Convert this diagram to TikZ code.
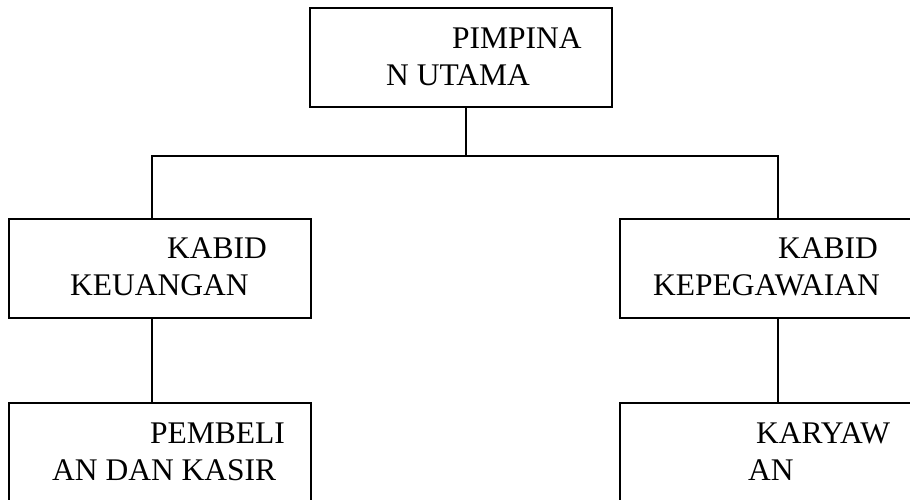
\documentclass[tikz,border=0pt]{standalone}
\usepackage{fontspec}
\setmainfont{Liberation Serif}
\tikzset{
  box/.style={draw, line width=1.4pt, rectangle, minimum width=302pt, minimum height=99pt, inner sep=0pt},
  lbl/.style={anchor=base west, inner sep=0pt, font=\fontsize{31.5}{37}\selectfont},
  link/.style={line width=1.3pt}
}
\begin{document}
\begin{tikzpicture}[x=1pt, y=-1pt]
    \useasboundingbox (0,0) rectangle (910,499);

    \coordinate (j0) at (466,156);
    \coordinate (jl) at (152,156);
    \coordinate (jr) at (778,156);

    \node[box] (utama) at (461,57.5) {};
    \node[box] (keu) at (160,268.5) {};
    \node[box] (peg) at (771,268.5) {};
    \node[box] (beli) at (160,452.5) {};
    \node[box] (kary) at (771,452.5) {};

    \node[lbl] (utamaA) at (452,48) {PIMPINA};
    \node[lbl] (utamaB) at (386,85) {N UTAMA};
    \node[lbl] (keuA) at (167,258) {KABID};
    \node[lbl] (keuB) at (70,295) {KEUANGAN};
    \node[lbl] (pegA) at (778,258) {KABID};
    \node[lbl] (pegB) at (653,295) {KEPEGAWAIAN};
    \node[lbl] (beliA) at (150,443) {PEMBELI};
    \node[lbl] (beliB) at (52,480) {AN DAN KASIR};
    \node[lbl] (karyA) at (756,443) {KARYAW};
    \node[lbl] (karyB) at (748,480) {AN};

    \draw[link] (j0 |- utama.south) -- (j0);
    \draw[link] (jl |- keu.north) -- (jl) -- (jr) -- (jr |- peg.north);
    \draw[link] (jl |- keu.south) -- (jl |- beli.north);
    \draw[link] (jr |- peg.south) -- (jr |- kary.north);
\end{tikzpicture}
\end{document}
